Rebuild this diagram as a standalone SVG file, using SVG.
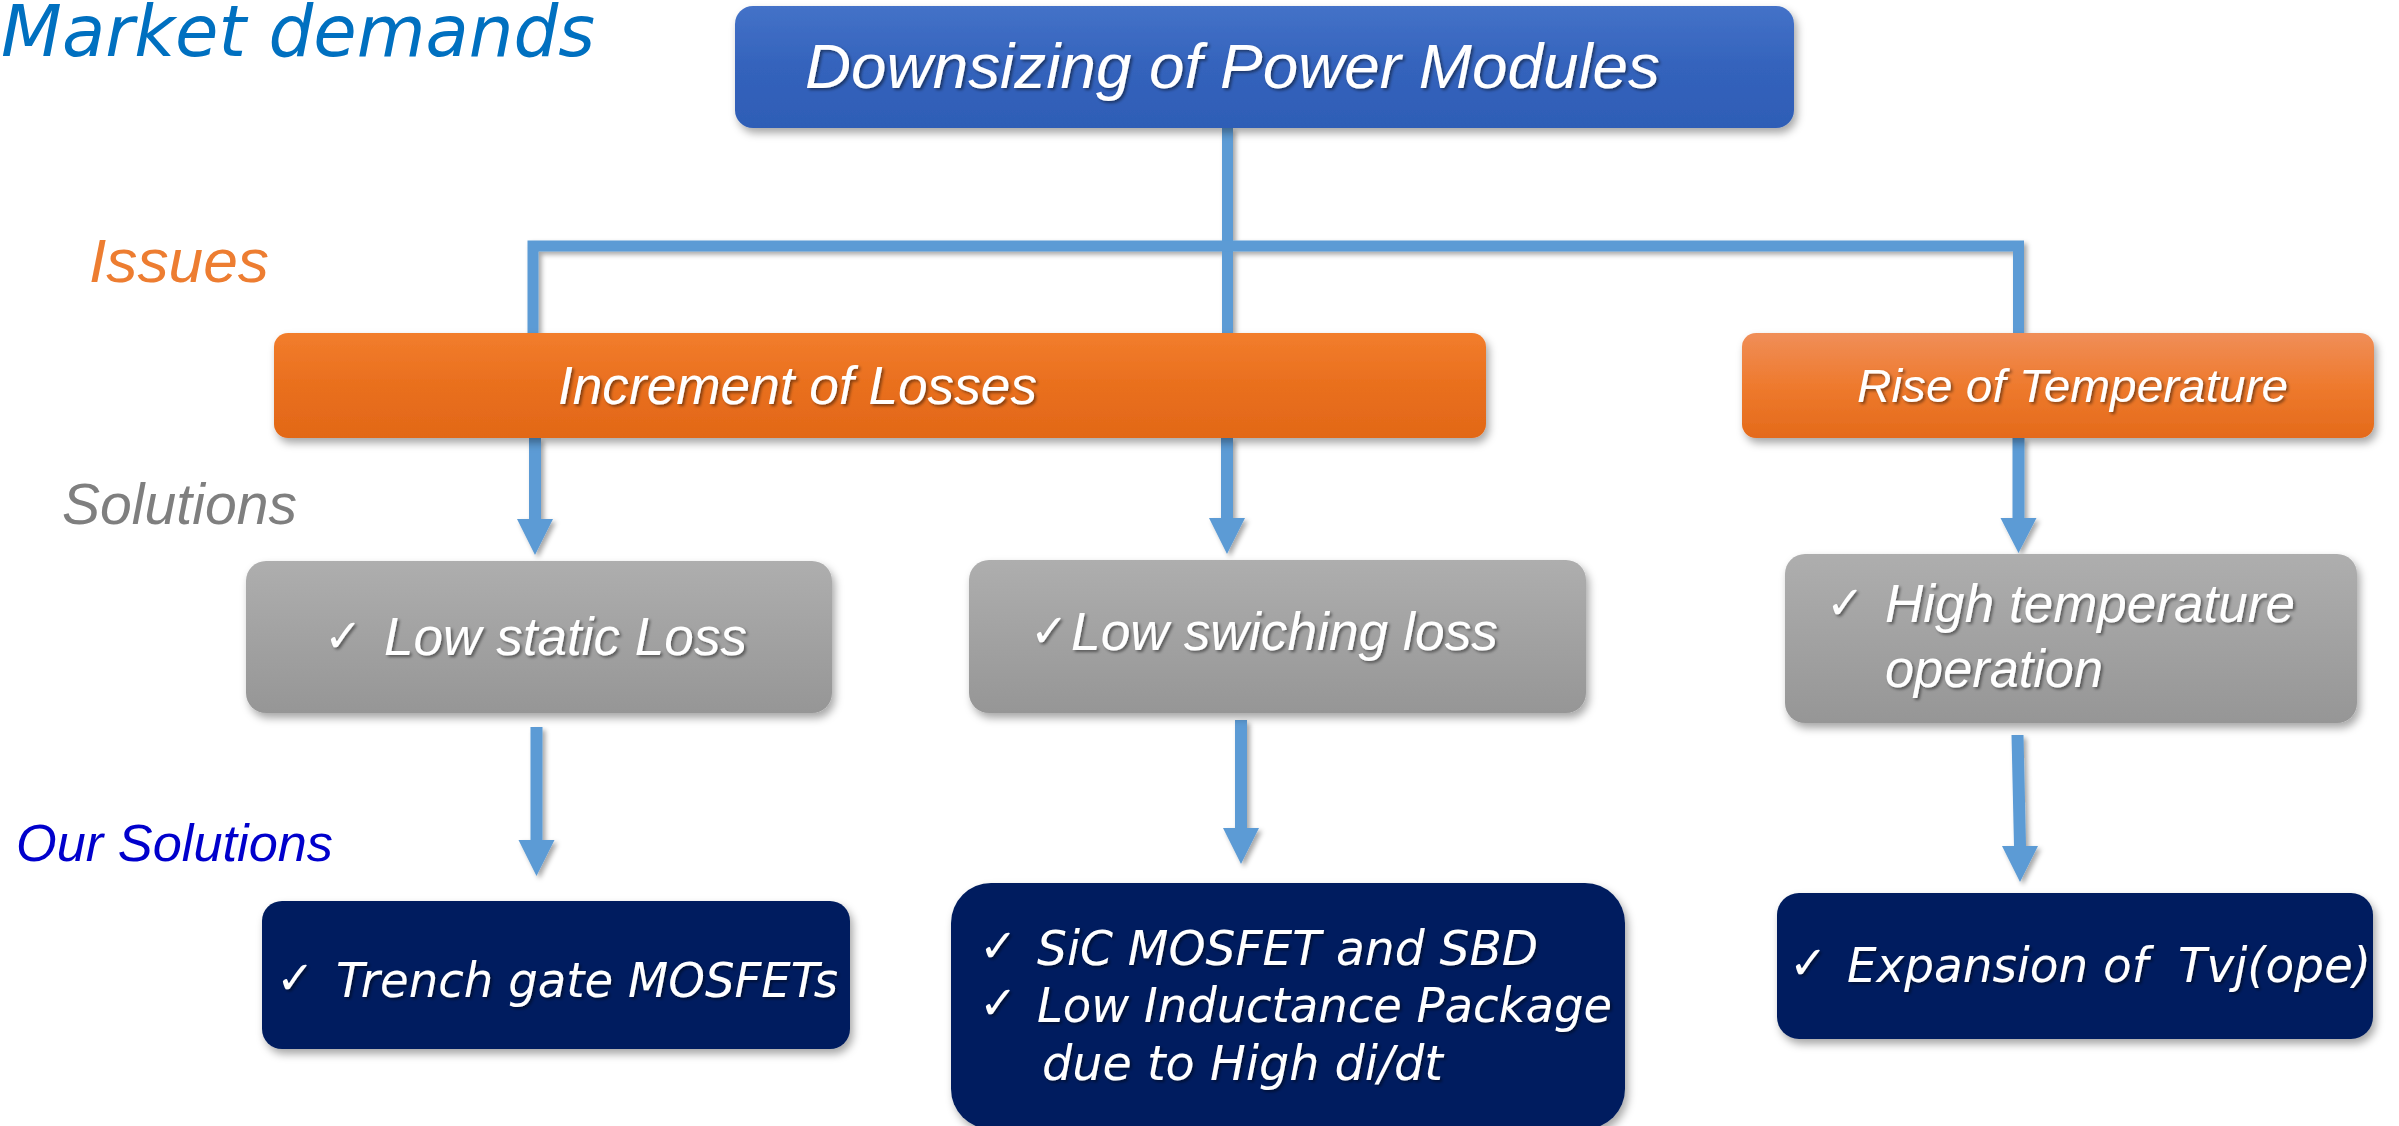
<svg xmlns="http://www.w3.org/2000/svg" width="2399" height="1126" viewBox="0 0 2399 1126">
  <defs>
    <linearGradient id="gBlue" x1="0" y1="0" x2="0" y2="1">
      <stop offset="0" stop-color="#4472C8"/>
      <stop offset="0.5" stop-color="#3463BC"/>
      <stop offset="1" stop-color="#2E5DB6"/>
    </linearGradient>
    <linearGradient id="gOrange" x1="0" y1="0" x2="0" y2="1">
      <stop offset="0" stop-color="#F27D2C"/>
      <stop offset="0.5" stop-color="#E96F1E"/>
      <stop offset="1" stop-color="#E26817"/>
    </linearGradient>
    <linearGradient id="gOrangeLight" x1="0" y1="0" x2="0" y2="1">
      <stop offset="0" stop-color="#F08E58"/>
      <stop offset="0.5" stop-color="#EE7A2E"/>
      <stop offset="1" stop-color="#E46A1A"/>
    </linearGradient>
    <linearGradient id="gGray" x1="0" y1="0" x2="0" y2="1">
      <stop offset="0" stop-color="#AEAEAE"/>
      <stop offset="1" stop-color="#969696"/>
    </linearGradient>
    <filter id="boxShadow" x="-10%" y="-20%" width="125%" height="150%">
      <feDropShadow dx="3" dy="5" stdDeviation="4" flood-color="#000" flood-opacity="0.35"/>
    </filter>
    <filter id="lineShadow" x="-10%" y="-10%" width="130%" height="130%">
      <feDropShadow dx="3" dy="3" stdDeviation="2.5" flood-color="#000" flood-opacity="0.35"/>
    </filter>
    <filter id="textShadow" x="-5%" y="-20%" width="115%" height="150%">
      <feDropShadow dx="2" dy="2" stdDeviation="1.5" flood-color="#000" flood-opacity="0.45"/>
    </filter>
  </defs>
  <style>
    .sans { font-family: "Liberation Sans", Arial, sans-serif; font-style: italic; }
    .verd { font-family: "DejaVu Sans", Verdana, sans-serif; font-style: italic; }
    .chk { font-family: "DejaVu Sans", sans-serif; font-size: 46px; fill: #fff; }
    .wt { fill: #fff; }
    .box { filter: url(#boxShadow); }
    .tx { filter: url(#textShadow); }
    .conn { fill: none; stroke: #5B9BD5; stroke-width: 11; stroke-linejoin: miter; }
    .arrow { fill: #5B9BD5; }
  </style>

  <!-- row labels -->
  <g id="labels">
    <text class="verd" x="1" y="56" font-size="71" fill="#0070C0" textLength="594" lengthAdjust="spacingAndGlyphs">Market demands</text>
    <text class="sans" x="89" y="282" font-size="62" fill="#ED7D31" textLength="180" lengthAdjust="spacingAndGlyphs">Issues</text>
    <text class="sans" x="62" y="524" font-size="57" fill="#7F7F7F" textLength="235" lengthAdjust="spacingAndGlyphs">Solutions</text>
    <text class="sans" x="16" y="861" font-size="52" fill="#0000CC" textLength="317" lengthAdjust="spacingAndGlyphs">Our Solutions</text>
  </g>

  <!-- connectors -->
  <g id="connectors" filter="url(#lineShadow)">
    <path class="conn" d="M1227.5 128 V333"/>
    <path class="conn" d="M533 333 V246 H2018.5 V333"/>
    <polygon class="arrow" points="529,438 541,438 541,519 553,519 535,555 517,519 529,519"/>
    <polygon class="arrow" points="1221,438 1233,438 1233,518 1245,518 1227,554 1209,518 1221,518"/>
    <polygon class="arrow" points="2012.5,438 2024.5,438 2024.5,518 2036.5,518 2018.5,553 2000.5,518 2012.5,518"/>
    <polygon class="arrow" points="530.5,727 542.5,727 542.5,840 554.5,840 536.5,876 518.5,840 530.5,840"/>
    <polygon class="arrow" points="1235,720 1247,720 1247,828 1259,828 1241,864 1223,828 1235,828"/>
    <polygon class="arrow" points="2011.5,735 2023.5,735 2026,846 2038,846 2020,882 2002,846 2014,846"/>
  </g>

  <!-- market demand -->
  <g id="node-downsizing">
    <rect class="box" x="735" y="6" width="1059" height="122" rx="18" fill="url(#gBlue)"/>
    <text class="sans wt tx" x="805" y="88" font-size="63" textLength="855" lengthAdjust="spacingAndGlyphs">Downsizing of Power Modules</text>
  </g>

  <!-- issues -->
  <g id="node-losses">
    <rect class="box" x="274" y="333" width="1212" height="105" rx="14" fill="url(#gOrange)"/>
    <text class="sans wt tx" x="558" y="404" font-size="53" textLength="479" lengthAdjust="spacingAndGlyphs">Increment of Losses</text>
  </g>
  <g id="node-temperature">
    <rect class="box" x="1742" y="333" width="632" height="105" rx="14" fill="url(#gOrangeLight)"/>
    <text class="sans wt tx" x="1857" y="402" font-size="47" textLength="431" lengthAdjust="spacingAndGlyphs">Rise of Temperature</text>
  </g>

  <!-- solutions -->
  <g id="node-static-loss">
    <rect class="box" x="246" y="561" width="586" height="152" rx="20" fill="url(#gGray)"/>
    <text class="chk tx" x="324" y="652">✓</text>
    <text class="sans wt tx" x="384" y="655" font-size="53" textLength="363" lengthAdjust="spacingAndGlyphs">Low static Loss</text>
  </g>
  <g id="node-switching-loss">
    <rect class="box" x="969" y="560" width="617" height="153" rx="20" fill="url(#gGray)"/>
    <text class="chk tx" x="1030" y="647">✓</text>
    <text class="sans wt tx" x="1071" y="650" font-size="53" textLength="427" lengthAdjust="spacingAndGlyphs">Low swiching loss</text>
  </g>
  <g id="node-high-temp">
    <rect class="box" x="1785" y="554" width="572" height="169" rx="20" fill="url(#gGray)"/>
    <text class="chk tx" x="1826" y="619">✓</text>
    <text class="sans wt tx" x="1885" y="622" font-size="53" textLength="410" lengthAdjust="spacingAndGlyphs">High temperature</text>
    <text class="sans wt tx" x="1885" y="687" font-size="53" textLength="218" lengthAdjust="spacingAndGlyphs">operation</text>
  </g>

  <!-- our solutions -->
  <g id="node-trench">
    <rect class="box" x="262" y="901" width="588" height="148" rx="20" fill="#001F5E"/>
    <text class="chk tx" x="276" y="994">✓</text>
    <text class="verd wt tx" x="336" y="997" font-size="48" textLength="502" lengthAdjust="spacingAndGlyphs">Trench gate MOSFETs</text>
  </g>
  <g id="node-sic">
    <rect class="box" x="951" y="883" width="674" height="246" rx="40" fill="#001F5E"/>
    <text class="chk tx" x="979" y="962">✓</text>
    <text class="verd wt tx" x="1037" y="965" font-size="48" textLength="501" lengthAdjust="spacingAndGlyphs">SiC MOSFET and SBD</text>
    <text class="chk tx" x="979" y="1019">✓</text>
    <text class="verd wt tx" x="1037" y="1022" font-size="48" textLength="575" lengthAdjust="spacingAndGlyphs">Low Inductance Package</text>
    <text class="verd wt tx" x="1042" y="1080" font-size="48" textLength="401" lengthAdjust="spacingAndGlyphs">due to High di/dt</text>
  </g>
  <g id="node-tvj">
    <rect class="box" x="1777" y="893" width="596" height="146" rx="22" fill="#001F5E"/>
    <text class="chk tx" x="1789" y="979">✓</text>
    <text class="verd wt tx" x="1847" y="982" font-size="48" xml:space="preserve" textLength="524" lengthAdjust="spacingAndGlyphs">Expansion of  Tvj(ope)</text>
  </g>
</svg>
